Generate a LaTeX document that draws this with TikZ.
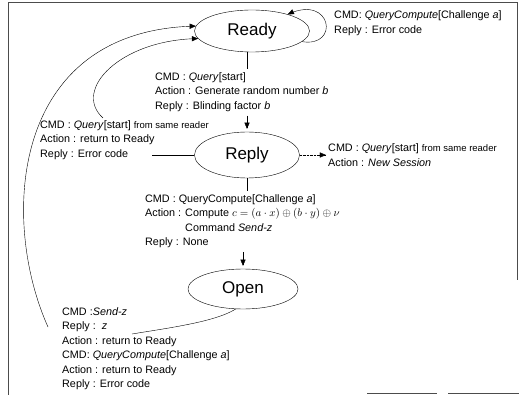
\documentclass[tikz,border=0pt]{standalone}
\usepackage{amsmath}
\usepackage{fontspec}
\setmainfont{Liberation Sans}
\usepackage{tikz}
\usetikzlibrary{calc}
\usetikzlibrary{arrows}
\usetikzlibrary{shapes.geometric}
\newcommand{\fromrdr}[1]{{\fontsize{9.5}{14.5}\selectfont #1}}
\tikzset{
  state/.style={ellipse, draw, inner sep=0pt, font=\fontsize{17}{20}\selectfont},
  msg/.style={anchor=west, align=left, inner sep=0pt, font=\fontsize{10.8}{14.5}\selectfont},
  frame/.style={draw=black!70, line width=0.8pt}
}
\begin{document}
\begin{tikzpicture}[x=1pt, y=-1pt, >=triangle 45]
\useasboundingbox (0,0) rectangle (519,395);
\draw[frame] (8,395) -- (8,2) -- (517,2) -- (517,280);
\draw[frame] (367,393) -- (437,393); \draw[frame] (448,393) -- (519,393);

\node[state, minimum width=115, minimum height=42] (Ready) at (252,31) {Ready};
\node[state, minimum width=105, minimum height=46] (Reply) at (247,155) {Reply};
\node[state, minimum width=110, minimum height=40] (Open) at (243,289) {Open};

\node[msg] (loopmsg) at (334,23) {CMD: \textit{QueryCompute}[Challenge \textit{a}]\\Reply : Error code};
\node[msg] (querymsg) at (155,92) {CMD : \textit{Query}[start]\\Action : Generate random number \textit{b}\\Reply : Blinding factor \textit{b}};
\node[msg] (samemsg) at (40,140) {CMD : \textit{Query}[start] \fromrdr{from same reader}\\Action : return to Ready\\Reply : Error code};
\node[msg] (newmsg) at (328,155) {CMD : \textit{Query}[start] \fromrdr{from same reader}\\Action : \textit{New Session}};
\node[msg] (computemsg) at (145,221) {CMD : QueryCompute[Challenge \textit{a}]\\Action : Compute $c=(a\cdot x)\oplus(b\cdot y)\oplus\nu$\\\phantom{Action : }Command \textit{Send-z}\\Reply : None};
\node[msg] (openmsg) at (62,348.5) {CMD :\textit{Send-z}\\Reply :\ \ \textit{z}\\Action : return to Ready\\CMD: \textit{QueryCompute}[Challenge \textit{a}]\\Action : return to Ready\\Reply : Error code};

\coordinate (E) at (152,155); \coordinate (S1) at (103,118);
\coordinate (S2) at (48,327); \coordinate (O1) at (132,334);

\draw[->] (Ready.-12) .. controls (340,48) and (332,-6) .. (Ready.25);
\draw[shorten >=3pt] (Ready.south -| Reply.north) -- (querymsg.north -| Reply.north);
\draw[->, shorten <=4pt, shorten >=3pt] (querymsg.south -| Reply.north) -- (Reply.north);
\draw[->, densely dotted, shorten >=2pt] (Reply.east) -- (newmsg.west);
\draw (Reply.west) -- (E);
\draw[->] (S1) .. controls (72,90) and (120,40) .. (Ready.188);
\draw[->] (S2) .. controls (0,220) and (10,30) .. (Ready.175);
\draw[shorten >=3pt] (Reply.south) -- (computemsg.north -| Reply.south);
\draw[->, shorten <=4pt, shorten >=3pt] (computemsg.south -| Open.north) -- (Open.north);
\draw (Open.250) .. controls (215,322) and (168,328) .. (O1);

\end{tikzpicture}
\end{document}
